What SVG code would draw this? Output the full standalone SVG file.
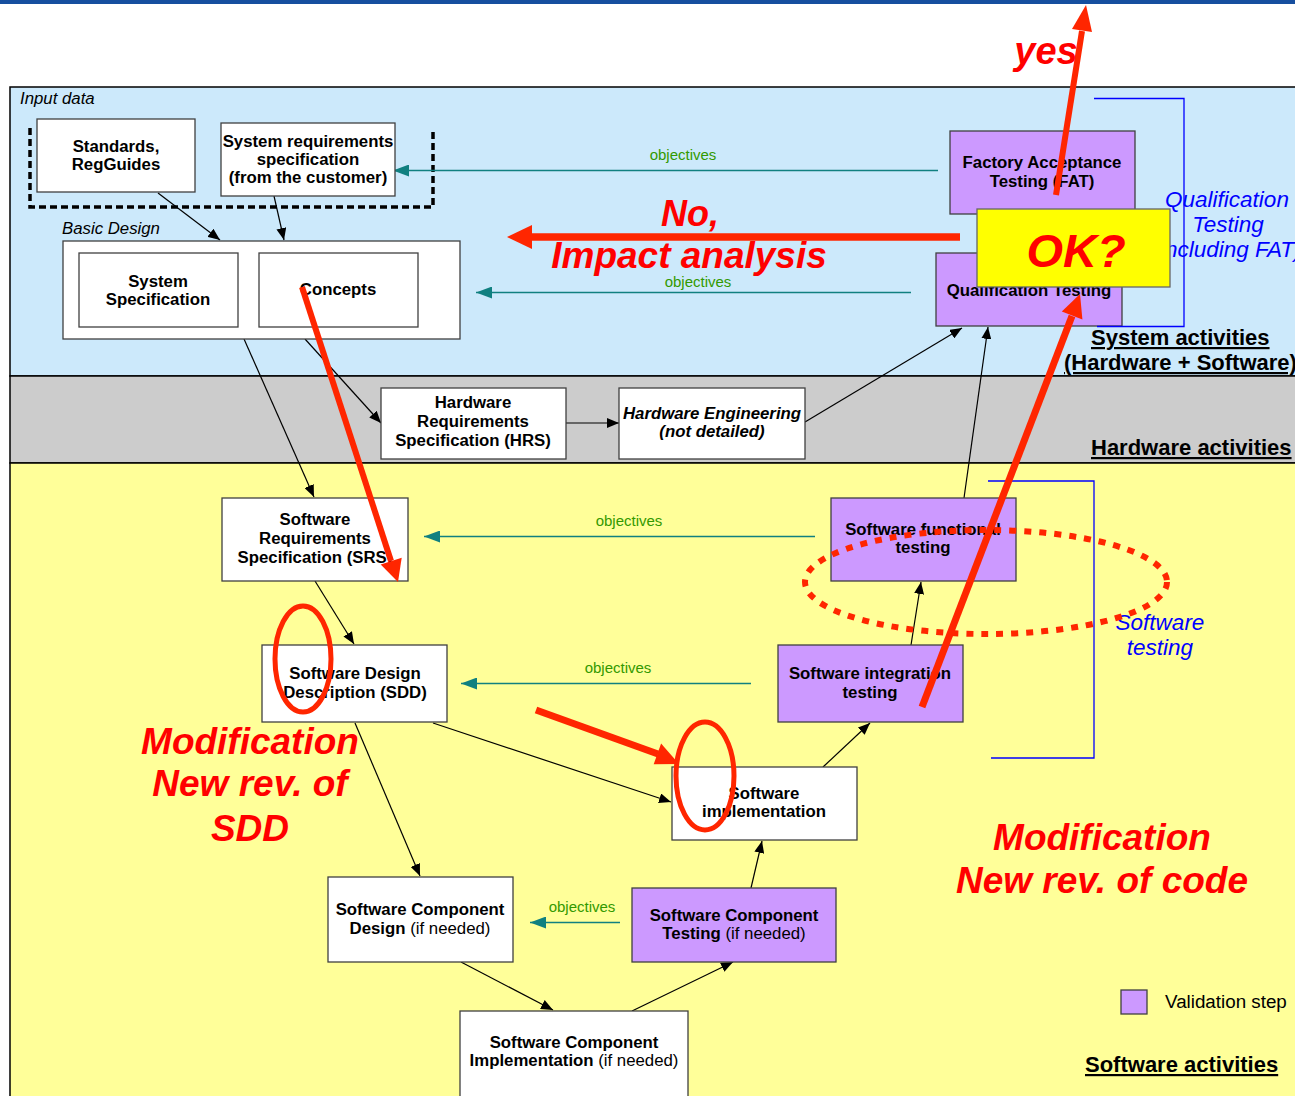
<svg xmlns="http://www.w3.org/2000/svg" width="1295" height="1096" viewBox="0 0 1295 1096">
<defs>
<style>
text{font-family:"Liberation Sans",Arial,sans-serif}
.box{fill:#fff;stroke:#404040;stroke-width:1.3}
.val{fill:#cc99ff;stroke:#404040;stroke-width:1.3}
.lb{font-size:16.8px;font-weight:bold;text-anchor:middle;fill:#000}
.nb{font-weight:normal}
.obj{font-size:15px;fill:#339900;text-anchor:middle}
.con{stroke:#000;stroke-width:1.2;fill:none;marker-end:url(#ah)}
.tl{stroke:#108080;stroke-width:1.3;fill:none;marker-end:url(#th)}
.red{font-size:37px;font-weight:bold;font-style:italic;fill:#ff0000;text-anchor:middle}
.rl{stroke:#ff2600;fill:none}
.rh{fill:#ff2600}
.blue{font-size:22.5px;font-style:italic;fill:#0000ff;text-anchor:middle}
.act{font-size:22px;font-weight:bold;text-decoration:underline;fill:#000}
.it{font-size:16.8px;font-style:italic;fill:#000}
.br{stroke:#0000ff;stroke-width:1.3;fill:none}
</style>
<marker id="ah" viewBox="0 0 12 10" refX="12" refY="5" markerWidth="12" markerHeight="10" markerUnits="userSpaceOnUse" orient="auto"><path d="M0,0 L12,5 L0,10 Z" fill="#000"/></marker>
<marker id="th" viewBox="0 0 16 12" refX="16" refY="6" markerWidth="16" markerHeight="12" markerUnits="userSpaceOnUse" orient="auto"><path d="M0,0 L16,6 L0,12 Z" fill="#108080"/></marker>
</defs>

<!-- background regions -->
<rect x="0" y="0" width="1295" height="1096" fill="#fff"/>
<rect x="0" y="0" width="1295" height="4" fill="#164f9f"/>
<rect x="10" y="87" width="1290" height="289" fill="#cce9fb" stroke="#000" stroke-width="1.5"/>
<rect x="10" y="376" width="1290" height="87" fill="#cccccc" stroke="#000" stroke-width="1.5"/>
<rect x="10" y="463" width="1290" height="640" fill="#ffff99" stroke="#000" stroke-width="1.5"/>

<text x="20" y="104" class="it">Input data</text>
<text x="62" y="234" class="it">Basic Design</text>
<path d="M30,128 V207 H433 V128" fill="none" stroke="#000" stroke-width="3.5" stroke-dasharray="7 4"/>

<text x="1091" y="345" class="act">System activities</text>
<text x="1064" y="370" class="act">(Hardware + Software)</text>
<text x="1091" y="455" class="act">Hardware activities</text>
<text x="1085" y="1072" class="act">Software activities</text>

<!-- connectors -->
<g id="connectors">
<line class="con" x1="158" y1="193" x2="220" y2="240"/>
<line class="con" x1="274" y1="196" x2="284" y2="240"/>
<line class="con" x1="244" y1="339" x2="314" y2="497"/>
<line class="con" x1="305" y1="339" x2="381" y2="423"/>
<line class="con" x1="566" y1="423" x2="619" y2="423"/>
<line class="con" x1="805" y1="422" x2="962" y2="328"/>
<line class="con" x1="964" y1="498" x2="988" y2="327"/>
<line class="con" x1="315" y1="581" x2="354" y2="644"/>
<line class="con" x1="911" y1="645" x2="921" y2="582"/>
<line class="con" x1="433" y1="723" x2="671" y2="802"/>
<line class="con" x1="823" y1="767" x2="870" y2="723"/>
<line class="con" x1="355" y1="723" x2="420" y2="876"/>
<line class="con" x1="751" y1="888" x2="762" y2="841"/>
<line class="con" x1="461" y1="962" x2="553" y2="1010"/>
<line class="con" x1="632" y1="1011" x2="733" y2="962"/>
<line class="tl" x1="938" y1="170.5" x2="393" y2="170.5"/>
<line class="tl" x1="911" y1="292.5" x2="476" y2="292.5"/>
<line class="tl" x1="815" y1="536.5" x2="424" y2="536.5"/>
<line class="tl" x1="751" y1="683.5" x2="461" y2="683.5"/>
<line class="tl" x1="620" y1="922.5" x2="530" y2="922.5"/>
<text x="683" y="160" class="obj">objectives</text>
<text x="698" y="287" class="obj">objectives</text>
<text x="629" y="526" class="obj">objectives</text>
<text x="618" y="673" class="obj">objectives</text>
<text x="582" y="912" class="obj">objectives</text>
</g>

<!-- nodes -->
<g id="n-standards"><rect class="box" x="37" y="119" width="158" height="73"/><text class="lb"><tspan x="116" y="152">Standards,</tspan><tspan x="116" y="170">RegGuides</tspan></text></g>
<g id="n-sysreq"><rect class="box" x="221" y="123" width="174" height="73"/><text class="lb"><tspan x="308" y="147">System requirements</tspan><tspan x="308" y="165">specification</tspan><tspan x="308" y="183">(from the customer)</tspan></text></g>
<g id="n-basic"><rect class="box" x="63" y="241" width="397" height="98"/></g>
<g id="n-sysspec"><rect class="box" x="79" y="253" width="159" height="74"/><text class="lb"><tspan x="158" y="287">System</tspan><tspan x="158" y="305">Specification</tspan></text></g>
<g id="n-concepts"><rect class="box" x="259" y="253" width="159" height="74"/><text class="lb" x="338" y="295">Concepts</text></g>
<g id="n-fat"><rect class="val" x="950" y="131" width="185" height="83"/><text class="lb"><tspan x="1042" y="168">Factory Acceptance</tspan><tspan x="1042" y="187">Testing (FAT)</tspan></text></g>
<g id="n-qual"><rect class="val" x="936" y="253" width="186" height="73"/><text class="lb" x="1029" y="296">Qualification Testing</text></g>
<g id="n-hrs"><rect class="box" x="381" y="388" width="185" height="71"/><text class="lb"><tspan x="473" y="408">Hardware</tspan><tspan x="473" y="427">Requirements</tspan><tspan x="473" y="446">Specification (HRS)</tspan></text></g>
<g id="n-hwe"><rect class="box" x="619" y="388" width="186" height="71"/><text class="lb" style="font-style:italic"><tspan x="712" y="419">Hardware Engineering</tspan><tspan x="712" y="437">(not detailed)</tspan></text></g>
<g id="n-srs"><rect class="box" x="222" y="498" width="186" height="83"/><text class="lb"><tspan x="315" y="525">Software</tspan><tspan x="315" y="544">Requirements</tspan><tspan x="315" y="563">Specification (SRS)</tspan></text></g>
<g id="n-func"><rect class="val" x="831" y="498" width="185" height="83"/><text class="lb"><tspan x="923" y="535">Software functional</tspan><tspan x="923" y="553">testing</tspan></text></g>
<g id="n-sdd"><rect class="box" x="262" y="645" width="185" height="77"/><text class="lb"><tspan x="355" y="679">Software Design</tspan><tspan x="355" y="698">Description (SDD)</tspan></text></g>
<g id="n-integ"><rect class="val" x="778" y="645" width="185" height="77"/><text class="lb"><tspan x="870" y="679">Software integration</tspan><tspan x="870" y="698">testing</tspan></text></g>
<g id="n-impl"><rect class="box" x="672" y="767" width="185" height="73"/><text class="lb"><tspan x="764" y="799">Software</tspan><tspan x="764" y="817">implementation</tspan></text></g>
<g id="n-scd"><rect class="box" x="328" y="877" width="185" height="85"/><text class="lb"><tspan x="420" y="915">Software Component</tspan><tspan x="420" y="934">Design <tspan class="nb">(if needed)</tspan></tspan></text></g>
<g id="n-sct"><rect class="val" x="632" y="888" width="204" height="74"/><text class="lb"><tspan x="734" y="921">Software Component</tspan><tspan x="734" y="939">Testing <tspan class="nb">(if needed)</tspan></tspan></text></g>
<g id="n-sci"><rect class="box" x="460" y="1011" width="228" height="90"/><text class="lb"><tspan x="574" y="1048">Software Component</tspan><tspan x="574" y="1066">Implementation <tspan class="nb">(if needed)</tspan></tspan></text></g>
<g id="legend"><rect class="val" x="1121" y="990" width="26" height="24"/><text x="1165" y="1008" font-size="18.8px" fill="#000">Validation step</text></g>

<!-- blue brackets -->
<path class="br" d="M1094,98.5 H1184 V326.5 H1097"/>
<path class="br" d="M988,481 H1094 V758 H991"/>
<text class="blue"><tspan x="1227" y="207">Qualification</tspan><tspan x="1228" y="232">Testing</tspan><tspan x="1227" y="257">(including FAT)</tspan></text>
<text class="blue"><tspan x="1160" y="630">Software</tspan><tspan x="1160" y="655">testing</tspan></text>

<!-- OK box -->
<g id="n-ok"><rect x="977" y="209" width="193" height="78" fill="#ffff00" stroke="#666" stroke-width="1.3"/><text class="red" x="1076" y="267" style="font-size:47px">OK?</text></g>

<!-- red annotations -->
<g id="annotations">
<line class="rl" stroke-width="6" x1="1056" y1="195" x2="1082" y2="31"/>
<polygon class="rh" points="1086,5 1092,32 1072,29"/>
<text class="red" x="1046" y="64" style="font-size:38px">yes</text>
<line class="rl" stroke-width="7.5" x1="960" y1="237" x2="530" y2="237"/>
<polygon class="rh" points="507,237 532,225 532,249"/>
<text class="red" x="690" y="226" style="font-size:36px">No,</text>
<text class="red" x="689" y="268">Impact analysis</text>
<line class="rl" stroke-width="6" x1="302" y1="287" x2="391" y2="561"/>
<polygon class="rh" points="398,582 401.7,557.7 380.7,564.5"/>
<line class="rl" stroke-width="7" x1="922" y1="707" x2="1072" y2="316"/>
<polygon class="rh" points="1080,294 1082.4,319.4 1061.8,311.6"/>
<line class="rl" stroke-width="7" x1="536" y1="710" x2="658" y2="754"/>
<polygon class="rh" points="679,764 653.7,764.2 661.1,743.5"/>
<ellipse cx="303" cy="659" rx="28" ry="53" fill="none" stroke="#ff2600" stroke-width="5"/>
<ellipse cx="705" cy="776" rx="29" ry="54" fill="none" stroke="#ff2600" stroke-width="5"/>
<ellipse cx="986" cy="582" rx="181" ry="52" fill="none" stroke="#ff2600" stroke-width="6" stroke-dasharray="7 8"/>
<text class="red"><tspan x="250" y="754">Modification</tspan><tspan x="250" y="796">New rev. of</tspan><tspan x="250" y="841">SDD</tspan></text>
<text class="red"><tspan x="1102" y="850">Modification</tspan><tspan x="1102" y="893">New rev. of code</tspan></text>
</g>
</svg>
